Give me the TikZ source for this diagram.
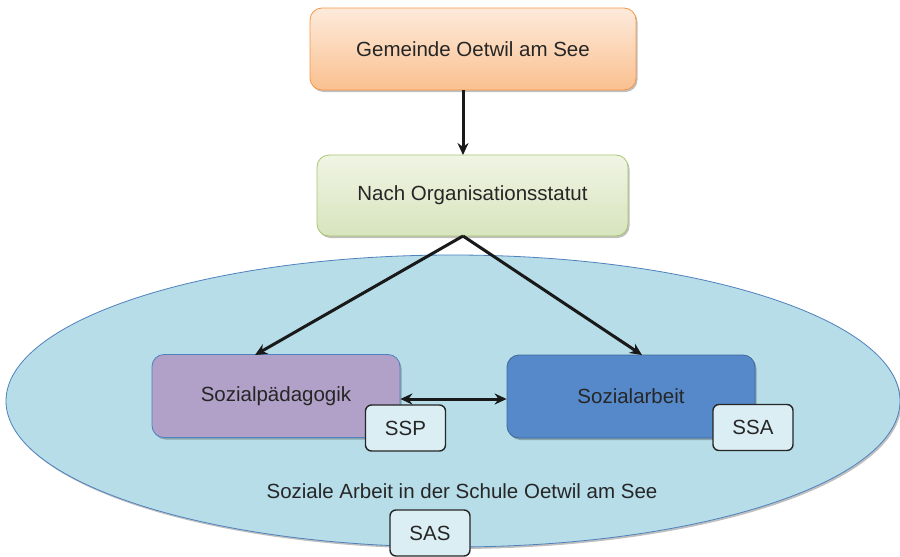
\documentclass[tikz,border=0pt]{standalone}
\usepackage{fontspec}
\setmainfont{Liberation Sans}
\usepackage{tikz}
\usetikzlibrary{shapes, arrows, arrows.meta, calc, positioning, shadows}

\definecolor{orangeline}{HTML}{F79646}
\definecolor{orangetop}{HTML}{FDEBDC}
\definecolor{orangebot}{HTML}{FAC08F}
\definecolor{greenline}{HTML}{A9C46E}
\definecolor{greentop}{HTML}{F0F5E4}
\definecolor{greenbot}{HTML}{D7E4BD}
\definecolor{ovalfill}{HTML}{B6DDE8}
\definecolor{ovalline}{HTML}{4F81BD}
\definecolor{lilac}{HTML}{B1A0C7}
\definecolor{bluebox}{HTML}{5689CA}
\definecolor{tagfill}{HTML}{DBEEF4}
\definecolor{ink}{HTML}{262626}

\begin{document}
\begin{tikzpicture}[x=1pt, y=-1pt, >={Stealth[length=12pt, width=11pt]}, font=\fontsize{20.5}{24}\selectfont, text=ink]
	\tikzstyle{shade} = [drop shadow={shadow xshift=1.5pt, shadow yshift=-2pt, opacity=0.25, fill=black}]
	\tikzstyle{unit} = [draw, line width=0.8pt, rounded corners=12pt, inner sep=0pt, minimum width=248pt, minimum height=83pt, shade]
	\tikzstyle{tag} = [draw=black!85, line width=1.4pt, rounded corners=6pt, fill=tagfill, inner sep=0pt, minimum width=80pt, minimum height=46pt]
	\tikzstyle{link} = [->, line width=3pt, draw=black!90]

	\useasboundingbox (0,0) rectangle (900,557);

	% school area
	\node[ellipse, draw=ovalline, line width=0.8pt, fill=ovalfill, minimum width=894pt, minimum height=292pt, inner sep=0pt, shade] (oval) at (453,401) {};
	\node (school) at (462,491) {Soziale Arbeit in der Schule Oetwil am See};

	% hierarchy
	\node[unit, draw=orangeline, top color=orangetop, bottom color=orangebot, minimum width=326pt, minimum height=82pt] (gemeinde) at (473,49) {Gemeinde Oetwil am See};
	\node[unit, draw=greenline, top color=greentop, bottom color=greenbot, minimum width=311pt, minimum height=81pt] (statut) at (472.5,195.5) {Nach Organisationsstatut};
	\node[unit, draw=ovalline, fill=lilac] (ssp) at (276,396) {Sozialpädagogik};
	\node[unit, draw=ovalline!80!black, fill=bluebox] (ssa) at (631,396.5) {Sozialarbeit};

	% abbreviations
	\node[tag] (ssptag) at (405.5,428) {SSP};
	\node[tag] (ssatag) at (753,427.5) {SSA};
	\node[tag] (sastag) at (430,533) {SAS};

	\coordinate (top) at (463,90);
	\coordinate (mid) at (463,155);
	\coordinate (hub) at (463,236);
	\coordinate (left) at (255,355);
	\coordinate (right) at (642,355);

	\draw[link] (top) -- (mid);
	\draw[link] (hub) -- (left);
	\draw[link] (hub) -- (right);
	\draw[link, <->] (ssp.east |- 0,399) -- (ssa.west |- 0,399);
\end{tikzpicture}
\end{document}
